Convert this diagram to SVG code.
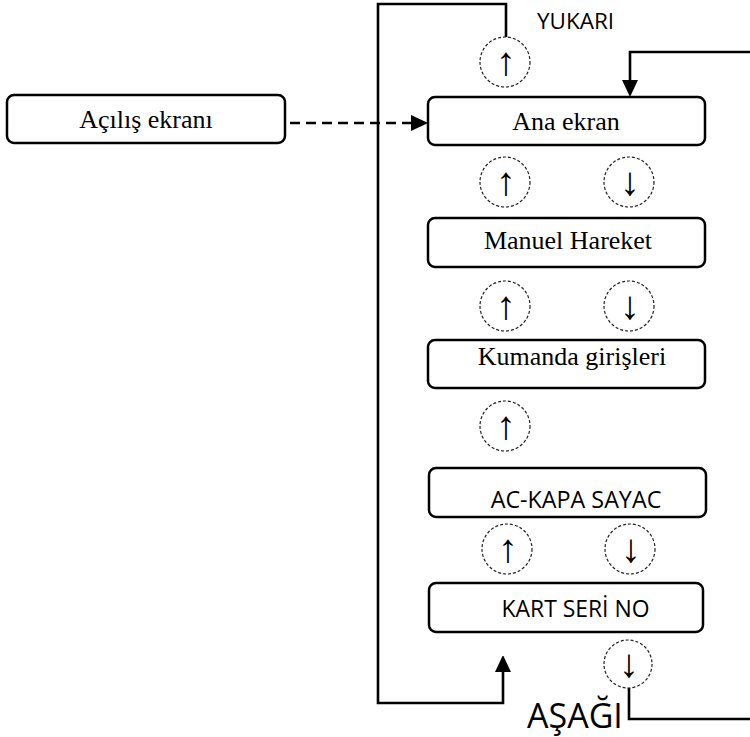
<svg xmlns="http://www.w3.org/2000/svg" width="750" height="737" viewBox="0 0 750 737">
<style>
.box{fill:#fff;stroke:#000;stroke-width:2.5}
.lbl{font-family:"Liberation Serif","Times New Roman",serif;font-size:26px;fill:#000;text-anchor:middle}
.sans{font-family:"Open Sans","Liberation Sans",sans-serif;fill:#000}
.btn{fill:#fff;stroke:#222;stroke-width:1.2;stroke-dasharray:3 2}
.arr{font-family:"Liberation Serif","DejaVu Serif",serif;font-size:40px;fill:#000;text-anchor:middle}
.con{fill:none;stroke:#000;stroke-width:2.6}
</style>
<defs>
<marker id="ah" markerUnits="userSpaceOnUse" markerWidth="16" markerHeight="17" refX="6" refY="8.5" orient="auto">
<path d="M0,0.5 L17,8.5 L0,16.5 z" fill="#000"/>
</marker>
</defs>
<g id="connectors">
<path class="con" d="M290,123 H417" stroke-dasharray="10 6" marker-end="url(#ah)"/>
<path class="con" d="M506,37 V4 H378 V703 H503 V666" marker-end="url(#ah)"/>
<path class="con" d="M629,688 V719 H760 V52 H630 V86" marker-end="url(#ah)"/>
</g>
<g id="acilis"><rect class="box" x="7" y="95" width="278" height="48" rx="7"/><text class="lbl" x="146" y="128">Açılış ekranı</text></g>
<g id="ana"><rect class="box" x="428" y="97" width="277" height="48" rx="7"/><text class="lbl" x="566" y="130">Ana ekran</text></g>
<g id="manuel"><rect class="box" x="428" y="218" width="277" height="49" rx="7"/><text class="lbl" x="568" y="249">Manuel Hareket</text></g>
<g id="kumanda"><rect class="box" x="428" y="340" width="277" height="48" rx="7"/><text class="lbl" x="572" y="365">Kumanda girişleri</text></g>
<g id="ackapa"><rect class="box" x="429" y="468" width="277" height="49" rx="7"/><text class="sans" x="576" y="508" font-size="23.3" text-anchor="middle">AC-KAPA SAYAC</text></g>
<g id="kart"><rect class="box" x="429" y="583" width="274" height="49" rx="7"/><text class="sans" x="575.5" y="617" font-size="22.9" text-anchor="middle">KART SERİ NO</text></g>
<g id="yukari"><text class="sans" x="537" y="29" font-size="22.5">YUKARI</text></g>
<g id="asagi"><text class="sans" x="527" y="728" font-size="34">AŞAĞI</text></g>
<g id="buttons">
<circle class="btn" cx="505" cy="62" r="25"/><text class="arr" x="506" y="75">↑</text>
<circle class="btn" cx="505" cy="182" r="25"/><text class="arr" x="506" y="195">↑</text>
<circle class="btn" cx="629" cy="182" r="25"/><text class="arr" x="630" y="195">↓</text>
<circle class="btn" cx="505" cy="306" r="25"/><text class="arr" x="506" y="319">↑</text>
<circle class="btn" cx="629" cy="306" r="25"/><text class="arr" x="630" y="319">↓</text>
<circle class="btn" cx="505" cy="426" r="25"/><text class="arr" x="506" y="439">↑</text>
<circle class="btn" cx="507" cy="549" r="25"/><text class="arr" x="508" y="562">↑</text>
<circle class="btn" cx="630" cy="549" r="25"/><text class="arr" x="631" y="562">↓</text>
<circle class="btn" cx="628" cy="664" r="24"/><text class="arr" x="629" y="677">↓</text>
</g>
</svg>
